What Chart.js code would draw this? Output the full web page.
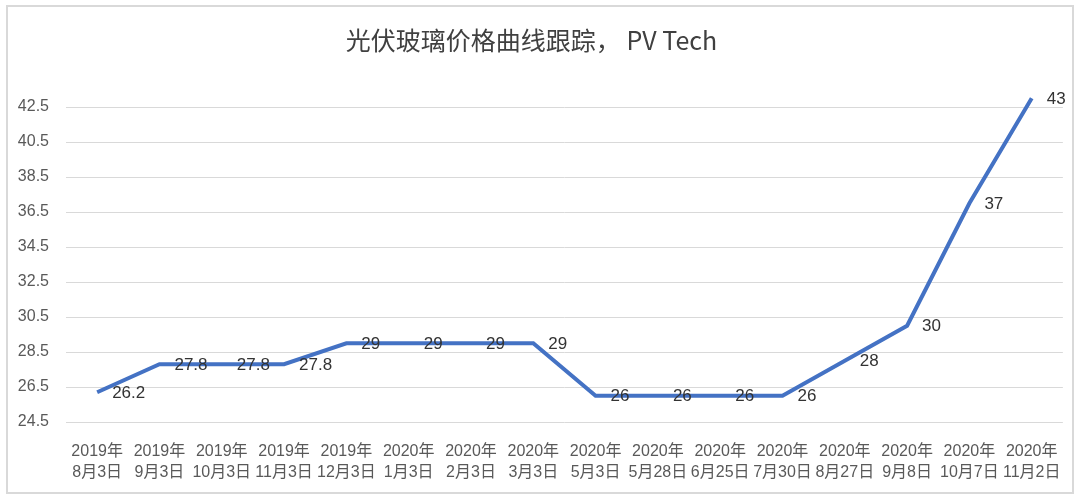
<!DOCTYPE html>
<html>
<head>
<meta charset="utf-8">
<script src="https://cdn.jsdelivr.net/npm/chart.js@4/dist/chart.umd.min.js"></script>
<style>
  html, body { margin: 0; padding: 0; background: #ffffff; }
  #wrap { position: relative; width: 1080px; height: 502px; }
  canvas { display: block; }
</style>
</head>
<body>
<div id="wrap"><canvas id="c" width="1080" height="502"></canvas></div>
<script>
const titleText = '光伏玻璃价格曲线跟踪， PV Tech';
const categories = [
  ['2019年', '8月3日'], ['2019年', '9月3日'], ['2019年', '10月3日'], ['2019年', '11月3日'],
  ['2019年', '12月3日'], ['2020年', '1月3日'], ['2020年', '2月3日'], ['2020年', '3月3日'],
  ['2020年', '5月3日'], ['2020年', '5月28日'], ['2020年', '6月25日'], ['2020年', '7月30日'],
  ['2020年', '8月27日'], ['2020年', '9月8日'], ['2020年', '10月7日'], ['2020年', '11月2日']
];
const prices = [26.2, 27.8, 27.8, 27.8, 29, 29, 29, 29, 26, 26, 26, 26, 28, 30, 37, 43];
const yTicks = [24.5, 26.5, 28.5, 30.5, 32.5, 34.5, 36.5, 38.5, 40.5, 42.5];

const FONT = "'Liberation Sans', 'Noto Sans CJK SC', sans-serif";

const frame = {
  id: 'frame',
  beforeDraw(chart) {
    const ctx = chart.ctx;
    ctx.save();
    ctx.fillStyle = '#ffffff';
    ctx.fillRect(0, 0, chart.width, chart.height);
    ctx.strokeStyle = '#d9d9d9';
    ctx.lineWidth = 2;
    ctx.strokeRect(7, 6, 1066, 487);
    ctx.restore();
  }
};

const valueLabels = {
  id: 'valueLabels',
  afterDatasetsDraw(chart) {
    const ctx = chart.ctx;
    const meta = chart.getDatasetMeta(0);
    ctx.save();
    ctx.font = '17px ' + FONT;
    ctx.fillStyle = '#333333';
    ctx.textAlign = 'left';
    ctx.textBaseline = 'middle';
    meta.data.forEach((pt, i) => {
      ctx.fillText(String(chart.data.datasets[0].data[i]), pt.x + 15, pt.y + 1);
    });
    ctx.restore();
  }
};

new Chart(document.getElementById('c'), {
  type: 'line',
  data: {
    labels: categories,
    datasets: [{
      data: prices,
      borderColor: '#4472C4',
      borderWidth: 4,
      pointRadius: 0,
      pointHoverRadius: 0,
      tension: 0,
      fill: false,
      borderCapStyle: 'butt',
      borderJoinStyle: 'miter'
    }]
  },
  options: {
    responsive: false,
    animation: false,
    devicePixelRatio: 1,
    layout: { padding: { left: 0, right: 17, top: 0, bottom: 0 } },
    plugins: {
      legend: { display: false },
      tooltip: { enabled: false },
      title: {
        display: true,
        text: titleText,
        color: '#404040',
        font: { family: "'Noto Sans CJK SC', 'Liberation Sans', sans-serif", size: 25, weight: 'normal', lineHeight: 1.2 },
        padding: { top: 25, bottom: 17 }
      }
    },
    scales: {
      x: {
        type: 'category',
        offset: true,
        grid: { display: false, drawTicks: false },
        border: { display: false },
        ticks: {
          autoSkip: false,
          maxRotation: 0,
          minRotation: 0,
          padding: 19,
          color: '#595959',
          font: { family: FONT, size: 16, lineHeight: 1.3 }
        },
        afterFit(scale) { scale.height = 80; }
      },
      y: {
        min: 24.5,
        max: 44.5,
        grid: { color: '#d9d9d9', lineWidth: 1, drawTicks: false },
        border: { display: false },
        afterBuildTicks(scale) {
          scale.ticks = yTicks.map(v => ({ value: v }));
        },
        ticks: {
          padding: 17,
          color: '#595959',
          font: { family: FONT, size: 16 },
          callback: v => Number(v).toFixed(1)
        },
        afterFit(scale) { scale.width = 66; }
      }
    }
  },
  plugins: [frame, valueLabels]
});
</script>
</body>
</html>
